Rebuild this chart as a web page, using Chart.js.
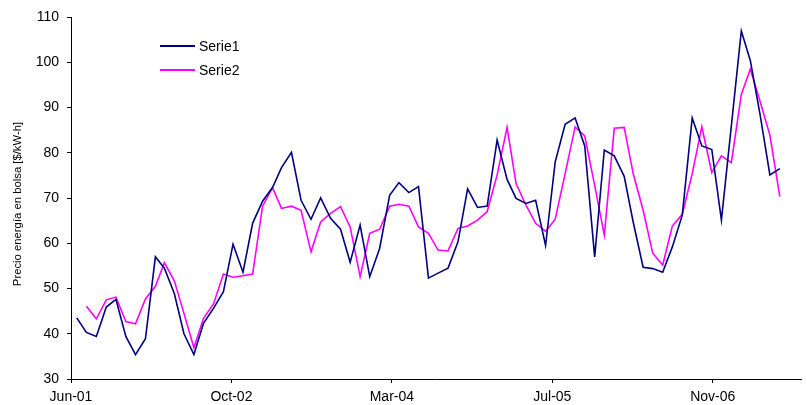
<!DOCTYPE html>
<html>
<head>
<meta charset="utf-8">
<script src="https://cdn.jsdelivr.net/npm/chart.js@4.4.1/dist/chart.umd.min.js"></script>
<style>
  html, body { margin: 0; padding: 0; background: #fff; }
  #wrap { position: relative; width: 807px; height: 405px; }
  #legend {
    position: absolute; left: 160px; top: 34px;
    font: 14px 'Liberation Sans', Arial, sans-serif; color: #000;
  }
  .item { display: flex; align-items: center; height: 24px; }
  .swatch { width: 35px; height: 0; border-top: 2px solid; margin-right: 4px; }
</style>
</head>
<body>
<div id="wrap">
  <canvas id="c" width="807" height="405"></canvas>
  <div id="legend"></div>
</div>
<script>
// Monthly spot-market energy price, June 2001 onwards
const seriesNames = ['Serie1', 'Serie2'];

const serie1 = [
  43.5, 40.3, 39.4, 45.9, 47.6, 39.4, 35.4, 38.9, 57.0, 54.5,
  48.9, 40.0, 35.4, 42.3, 45.6, 49.3, 59.8, 53.6, 64.4, 69.3,
  72.3, 76.7, 80.1, 69.5, 65.3, 70.0, 65.5, 63.1, 55.8, 64.0,
  52.6, 58.9, 70.6, 73.4, 71.2, 72.5, 52.3, 53.4, 54.5, 60.3,
  72.0, 67.9, 68.2, 82.8, 74.1, 69.9, 68.8, 69.5, 59.5, 78.0,
  86.3, 87.7, 81.5, 57.0, 80.6, 79.3, 74.8, 64.7, 54.7, 54.4,
  53.6, 59.2, 66.2, 87.7, 81.5, 80.7, 65.1, 86.0, 106.9, 100.4,
  88.2, 75.1, 76.5
];

const serie2 = [
  null, 46.1, 43.3, 47.5, 48.1, 42.7, 42.2, 47.7, 50.5, 55.7,
  51.7, 44.5, 36.9, 43.4, 46.6, 53.2, 52.5, 52.8, 53.2, 68.2,
  72.3, 67.7, 68.2, 67.3, 58.1, 64.7, 66.6, 68.1, 63.6, 52.6,
  62.2, 63.1, 68.2, 68.6, 68.2, 63.6, 62.2, 58.5, 58.3, 63.3,
  63.8, 65.1, 67.0, 75.1, 85.6, 73.2, 68.4, 64.4, 62.6, 65.3,
  75.4, 85.7, 83.7, 72.8, 61.8, 85.4, 85.6, 75.4, 67.3, 57.8,
  55.2, 63.8, 66.4, 75.4, 85.7, 75.6, 79.3, 77.8, 92.9, 98.5,
  91.2, 83.9, 70.3
];

const tickLabels = ['Jun-01', 'Oct-02', 'Mar-04', 'Jul-05', 'Nov-06'];
const yTitle = 'Precio energía en bolsa [$/kW-h]';

// Date axis measured in days from 1 June 2001, one major tick every 500 days
const startYear = 2001, startMonth = 5;
const axisStartDay = -18, axisEndDay = 2257, tickEveryDays = 500;
const dayOf = i => (Date.UTC(startYear, startMonth + i, 1) - Date.UTC(startYear, startMonth, 1)) / 86400000;

const colors = ['#000080', '#FF00FF'];
const font = { family: "'Liberation Sans', Arial, sans-serif", size: 14 };

const toPoints = arr => arr.map((v, i) => ({ x: dayOf(i), y: v }));

const yTitlePlugin = {
  id: 'yTitle',
  afterDraw(chart) {
    const { ctx, chartArea } = chart;
    ctx.save();
    ctx.translate(18, (chartArea.top + chartArea.bottom) / 2 + 6);
    ctx.rotate(-Math.PI / 2);
    ctx.font = "11.3px 'Liberation Sans', Arial, sans-serif";
    ctx.fillStyle = '#000';
    ctx.textAlign = 'center';
    ctx.textBaseline = 'middle';
    ctx.fillText(yTitle, 0, 0);
    ctx.restore();
  }
};

const axisGrid = { drawOnChartArea: false, drawTicks: true, tickLength: 4, color: '#000', lineWidth: 1 };

const chart = new Chart(document.getElementById('c'), {
  type: 'line',
  data: {
    datasets: [serie1, serie2].map((s, k) => ({
      label: seriesNames[k],
      data: toPoints(s),
      borderColor: colors[k],
      backgroundColor: colors[k],
      borderWidth: 1.6,
      pointRadius: 0,
      tension: 0,
      fill: false,
      spanGaps: false
    }))
  },
  options: {
    responsive: false,
    animation: false,
    devicePixelRatio: 1,
    layout: { padding: { left: 0, right: 6, top: 17, bottom: 0 } },
    plugins: { legend: { display: false }, tooltip: { enabled: false } },
    scales: {
      x: {
        type: 'linear',
        min: axisStartDay,
        max: axisEndDay,
        afterBuildTicks: scale => {
          scale.ticks = tickLabels.map((_, k) => ({ value: axisStartDay + k * tickEveryDays }));
        },
        ticks: {
          autoSkip: false, maxRotation: 0, font, color: '#000', padding: 6,
          callback: (value, index) => tickLabels[index]
        },
        grid: axisGrid,
        border: { display: true, color: '#000', width: 1 },
        afterFit: scale => { scale.height = 26; }
      },
      y: {
        min: 30,
        max: 110,
        ticks: { stepSize: 10, font, color: '#000', padding: 8 },
        grid: axisGrid,
        border: { display: true, color: '#000', width: 1 },
        afterFit: scale => { scale.width = 71; }
      }
    }
  },
  plugins: [yTitlePlugin]
});

// Legend drawn as HTML text next to short line swatches
const legend = document.getElementById('legend');
chart.data.datasets.forEach(ds => {
  const row = document.createElement('div');
  row.className = 'item';
  const sw = document.createElement('span');
  sw.className = 'swatch';
  sw.style.borderTopColor = ds.borderColor;
  const label = document.createElement('span');
  label.textContent = ds.label;
  row.appendChild(sw);
  row.appendChild(label);
  legend.appendChild(row);
});
</script>
</body>
</html>
